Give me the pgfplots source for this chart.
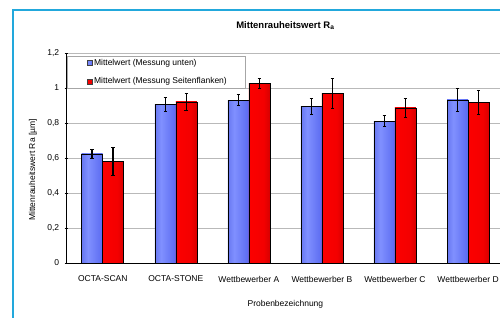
\documentclass[border=0pt]{standalone}
\usepackage{fontspec}
\setmainfont{Liberation Sans}
\usepackage{pgfplots}
\usepackage{pgfplotstable}
\pgfplotsset{compat=1.18}
\definecolor{frameblue}{HTML}{22A8DC}
\definecolor{b0}{HTML}{2A38B0}
\definecolor{b1}{HTML}{5262E6}
\definecolor{b2}{HTML}{8090FF}
\definecolor{b3}{HTML}{5A6AF0}
\definecolor{b4}{HTML}{3A4AD2}
\definecolor{r0}{HTML}{A00000}
\definecolor{r1}{HTML}{FF0000}
\definecolor{r2}{HTML}{F40000}
\definecolor{r3}{HTML}{C40000}
\definecolor{r4}{HTML}{5A0000}
\pgfdeclarehorizontalshading{bluebar}{100bp}{color(0bp)=(b0); color(12bp)=(b1); color(40bp)=(b2); color(75bp)=(b3); color(100bp)=(b4)}
\pgfdeclarehorizontalshading{redbar}{100bp}{color(0bp)=(r0); color(12bp)=(r1); color(60bp)=(r2); color(85bp)=(r3); color(100bp)=(r4)}
\pgfplotstableread{
x v e w f
0 0.624 0.025 0.580 0.080
1 0.907 0.040 0.920 0.050
2 0.930 0.030 1.025 0.030
3 0.894 0.047 0.968 0.087
4 0.810 0.030 0.886 0.055
5 0.932 0.065 0.917 0.070
}\data
\begin{document}
\begin{tikzpicture}[x=1pt,y=1pt]
\useasboundingbox (0,0) rectangle (500,318);
\clip (0,0) rectangle (500,318);
\draw[frameblue, line width=2pt] (13,-5) -- (13,308) -- (510,308);
\node[rotate=90, font=\fontsize{8.5}{10}\selectfont] at (33,148) {Mittenrauheitswert Ra [µm]};
\begin{axis}[
  at={(66.2pt,55pt)}, anchor=south west,
  scale only axis, width=438.4pt, height=210pt,
  xmin=-0.5, xmax=5.5, ymin=0, ymax=1.2,
  ybar=0pt, bar width=21pt,
  xtick={0,1,2,3,4,5},
  xticklabels={OCTA-SCAN,OCTA-STONE,Wettbewerber A,Wettbewerber B,Wettbewerber C,Wettbewerber D},
  ytick={0,0.2,0.4,0.6,0.8,1,1.2},
  ticklabel style={font=\fontsize{8.5}{10}\selectfont},
  xticklabel style={yshift=-8pt},
  yticklabel style={xshift=-2pt, /pgf/number format/.cd, use comma, fixed, precision=1, assume math mode=true},
  xtick style={draw=none},
  ytick style={black},
  tick align=outside, major tick length=3pt,
  axis x line=bottom, axis y line=left,
  axis line style={-, black, line width=0.6pt},
  ymajorgrids, grid style={gray!55, line width=0.5pt},
  title={\textbf{Mittenrauheitswert R\textsubscript{a}}},
  title style={font=\fontsize{9.5}{11}\selectfont, at={(0.5,1)}, anchor=center, yshift=21pt},
  xlabel={Probenbezeichnung},
  label style={font=\fontsize{8.5}{10}\selectfont},
  xlabel style={at={(0.5,0)}, anchor=center, yshift=-41pt},
  legend style={at={(0.002,0.987)}, anchor=north west, draw=gray!70, fill=white,
     font=\fontsize{8.5}{10}\selectfont, row sep=7pt, inner xsep=2pt, inner ysep=1pt},
  legend cell align=left,
  legend image code/.code={\path[draw=none] (0pt,0pt) (22pt,0pt);\draw[#1, draw=black!75, line width=0.4pt] (18pt,-2.3pt) rectangle (22.6pt,2.3pt);},
  error bars/error bar style={black, line width=1.5pt},
  error bars/error mark options={black, line width=1pt, mark size=1.8pt, rotate=90},
]
\pgfplotsinvokeforeach{0,...,5}{
\addplot[forget plot, draw=black, line width=0.5pt, shade, shading=bluebar, bar shift=-10.5pt,
  restrict x to domain=#1:#1,
  error bars/.cd, y dir=both, y explicit]
  table[x=x, y=v, y error=e]{\data};
\addplot[forget plot, draw=black, line width=0.5pt, shade, shading=redbar, bar shift=10.5pt,
  restrict x to domain=#1:#1,
  error bars/.cd, y dir=both, y explicit]
  table[x=x, y=w, y error=f]{\data};
}
\addlegendimage{shade, shading=bluebar}
\addlegendentry{Mittelwert (Messung unten)}
\addlegendimage{shade, shading=redbar}
\addlegendentry{Mittelwert (Messung Seitenflanken)\kern14pt}
\end{axis}
\end{tikzpicture}
\end{document}
